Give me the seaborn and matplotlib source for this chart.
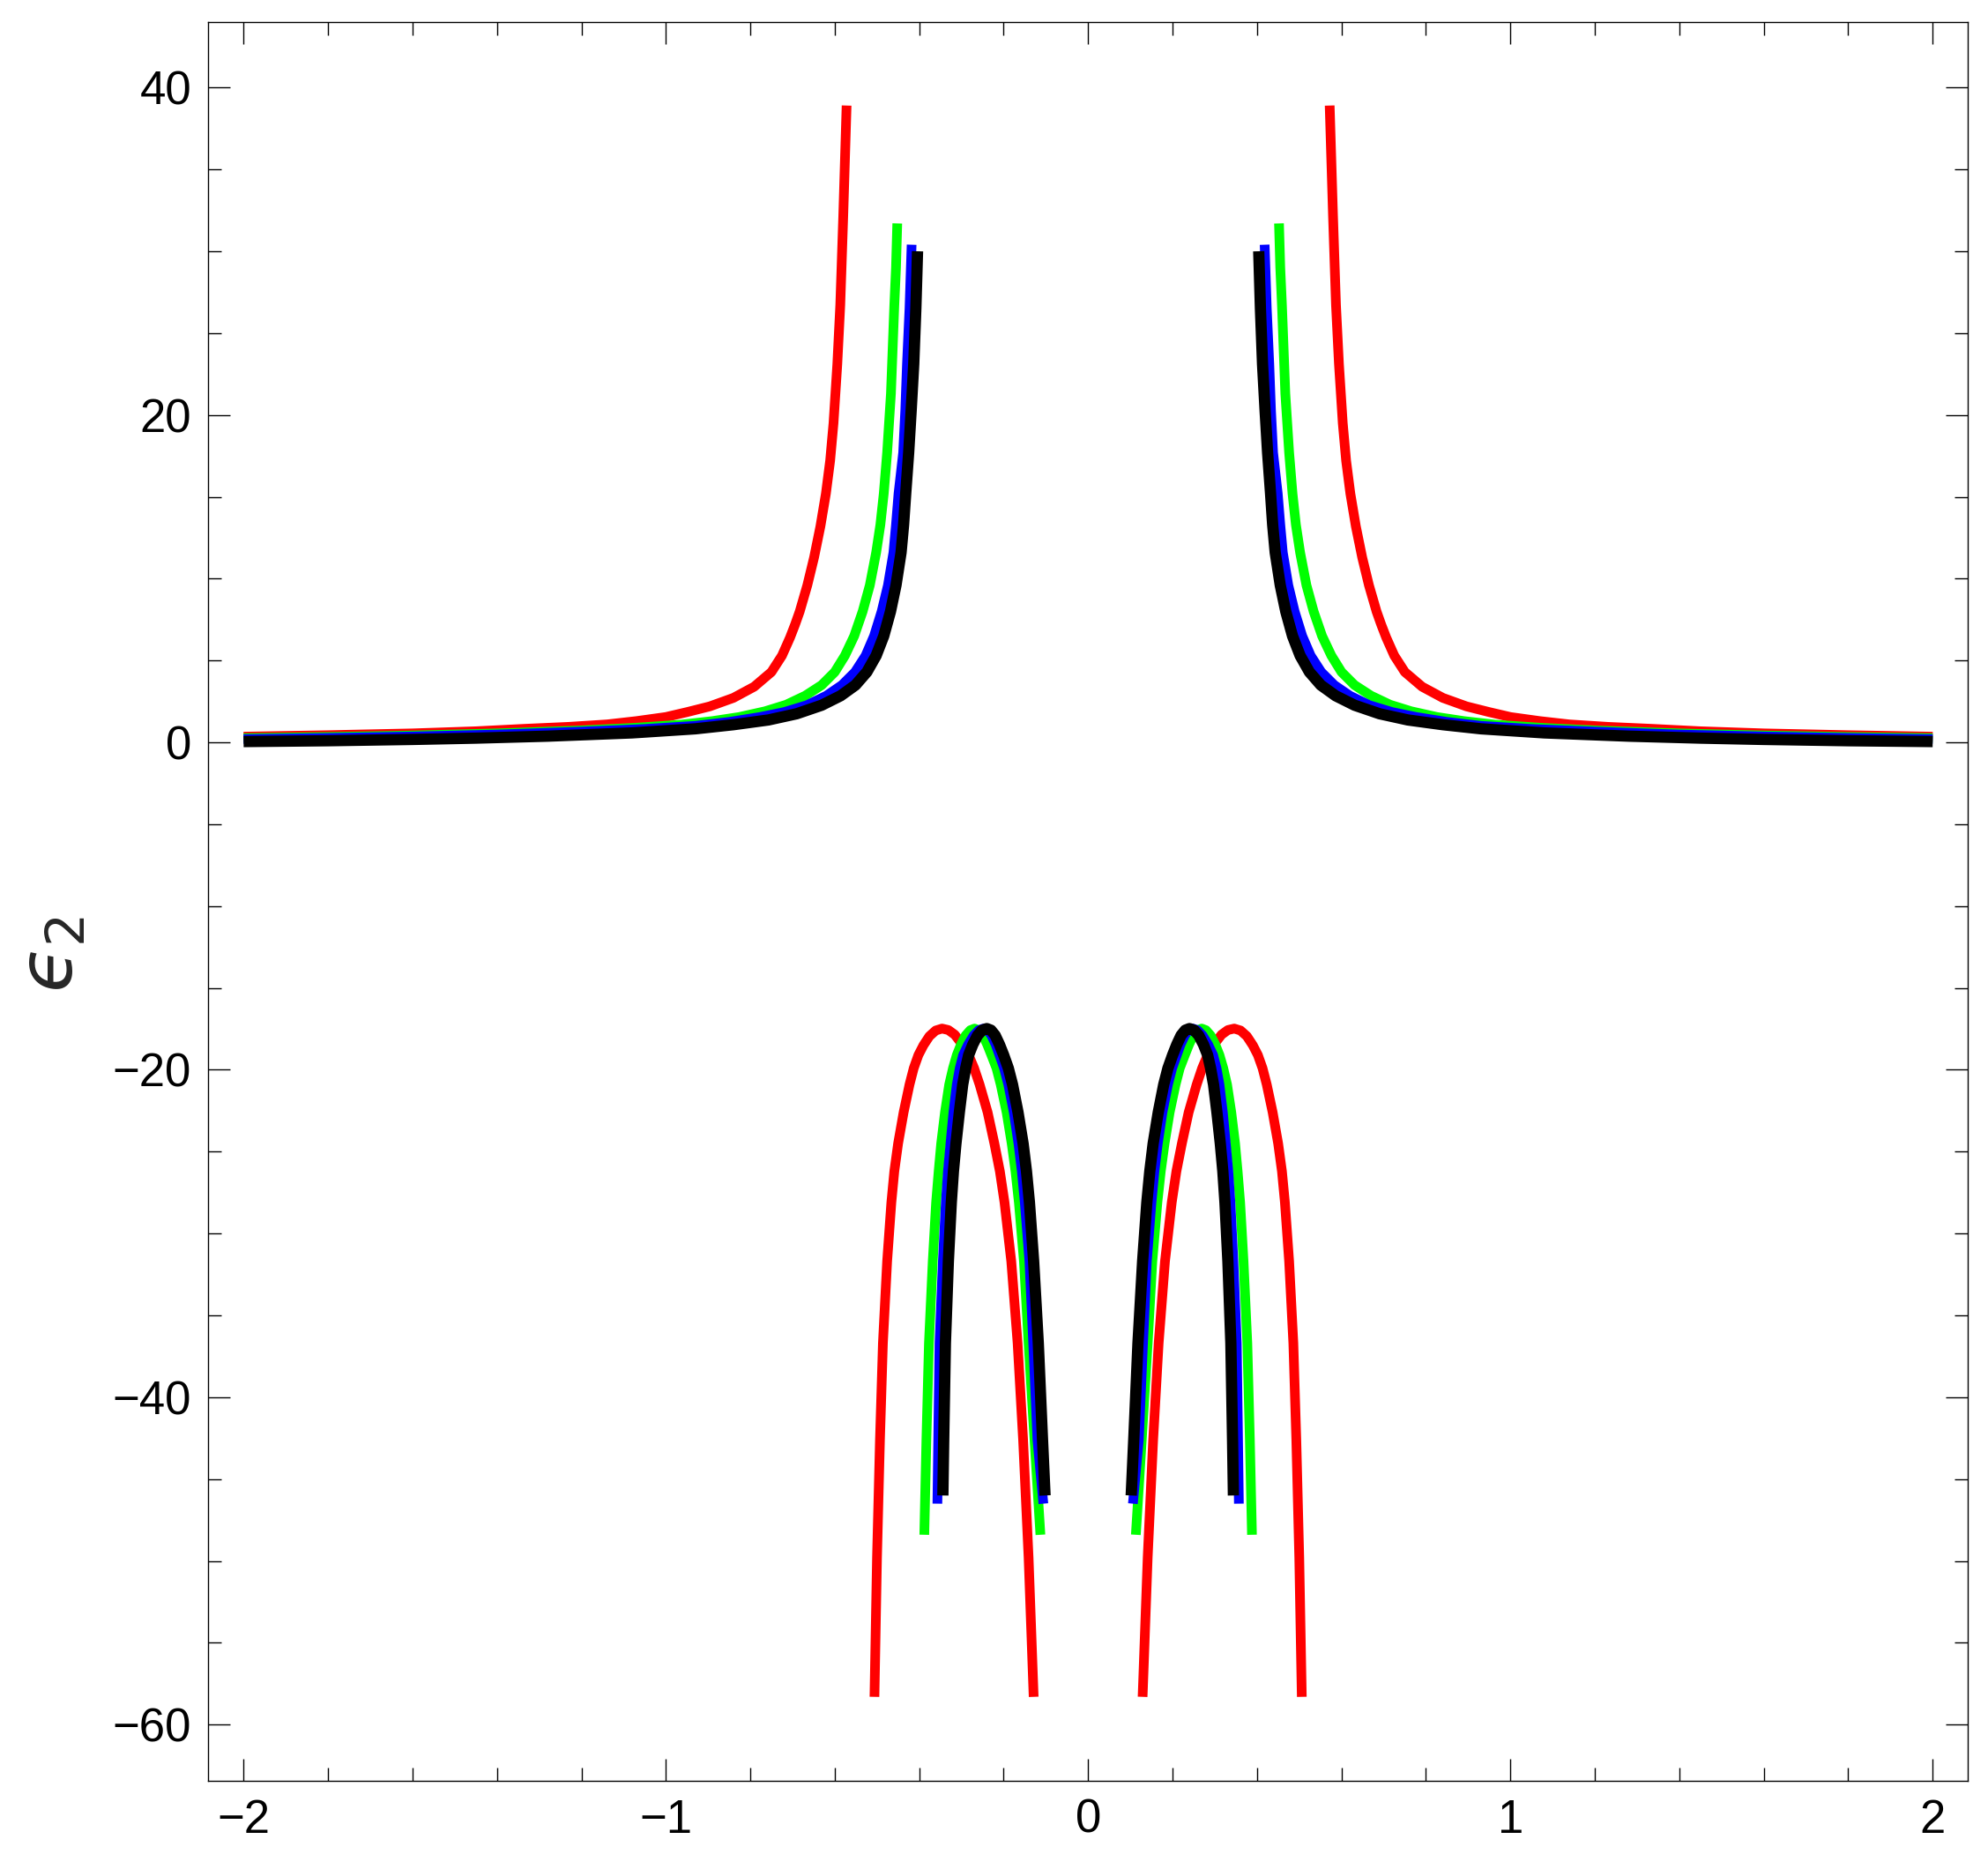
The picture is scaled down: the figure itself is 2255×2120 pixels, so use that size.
import numpy as np
import pandas as pd
import matplotlib
matplotlib.use("Agg")
import matplotlib.pyplot as plt
from matplotlib.ticker import MultipleLocator
import seaborn as sns

# values; the plot is mirror symmetric in x,
# so only the right-hand half of every branch is listed
red_up_x = [0.572, 0.576, 0.580, 0.584, 0.587, 0.594, 0.603, 0.611, 0.621, 0.634, 0.649, 0.665,
            0.683, 0.694, 0.706, 0.725, 0.750, 0.791, 0.840, 0.896, 0.950, 1.000, 1.070, 1.139,
            1.230, 1.334, 1.450, 1.600, 1.800, 2.000]
red_up_y = [38.9, 35.5, 32.1, 29.0, 26.7, 23.1, 19.5, 17.2, 15.2, 13.2, 11.3, 9.6,
            8.0, 7.2, 6.4, 5.3, 4.3, 3.4, 2.72, 2.2, 1.85, 1.55, 1.30, 1.10,
            0.95, 0.83, 0.68, 0.55, 0.44, 0.35]
green_up_x = [0.452, 0.455, 0.459, 0.463, 0.467, 0.476, 0.484, 0.492, 0.502, 0.517, 0.534, 0.554,
              0.576, 0.600, 0.631, 0.670, 0.715, 0.765, 0.826, 0.890, 0.965, 1.080, 1.210, 1.400,
              1.600, 1.800, 2.000]
green_up_y = [31.7, 29.0, 26.7, 24.0, 21.3, 17.7, 15.2, 13.3, 11.6, 9.6, 8.0, 6.5,
              5.3, 4.3, 3.5, 2.85, 2.3, 1.9, 1.55, 1.30, 1.08, 0.88, 0.72, 0.55,
              0.42, 0.33, 0.26]
blue_up_x = [0.418, 0.423, 0.429, 0.433, 0.438, 0.449, 0.455, 0.461, 0.474, 0.489, 0.507, 0.527,
             0.552, 0.583, 0.620, 0.666, 0.720, 0.777, 0.850, 0.930, 1.050, 1.210, 1.400, 1.600,
             1.800, 2.000]
blue_up_y = [30.4, 26.5, 23.1, 20.3, 17.7, 15.2, 13.3, 11.6, 9.6, 8.0, 6.5, 5.3,
             4.3, 3.5, 2.85, 2.27, 1.85, 1.55, 1.25, 1.01, 0.82, 0.65, 0.48, 0.36,
             0.27, 0.20]
black_up_x = [0.404, 0.408, 0.413, 0.419, 0.425, 0.432, 0.437, 0.443, 0.455, 0.468, 0.484, 0.502,
              0.524, 0.551, 0.586, 0.631, 0.690, 0.757, 0.840, 0.930, 1.080, 1.280, 1.450, 1.600,
              1.800, 2.000]
black_up_y = [30.0, 26.5, 23.1, 20.3, 17.7, 15.2, 13.3, 11.6, 9.6, 8.0, 6.5, 5.3,
              4.3, 3.5, 2.85, 2.27, 1.75, 1.37, 1.08, 0.83, 0.58, 0.38, 0.26, 0.18,
              0.10, 0.05]

red_arc_x = [0.129, 0.141, 0.154, 0.167, 0.182, 0.198, 0.209, 0.222, 0.238, 0.257, 0.270,
             0.283, 0.298, 0.316, 0.331, 0.346, 0.361, 0.376, 0.390, 0.402, 0.413, 0.423,
             0.437, 0.450, 0.459, 0.466, 0.476, 0.486, 0.493, 0.500, 0.506]
red_arc_y = [-58.3, -49.8, -42.6, -36.7, -31.7, -28.1, -26.2, -24.5, -22.6, -20.9, -19.9,
             -19.1, -18.45, -17.85, -17.57, -17.48, -17.6, -17.95, -18.5, -19.1, -19.9, -20.9,
             -22.6, -24.5, -26.2, -28.1, -31.7, -36.7, -42.6, -49.8, -58.3]
green_arc_x = [0.113, 0.127, 0.141, 0.152, 0.164, 0.172, 0.181, 0.193, 0.207, 0.217, 0.229,
               0.239, 0.249, 0.259, 0.269, 0.279, 0.290, 0.301, 0.311, 0.320, 0.329, 0.339,
               0.348, 0.354, 0.360, 0.368, 0.377, 0.383, 0.388]
green_arc_y = [-48.4, -42.6, -36.7, -31.7, -28.1, -26.2, -24.5, -22.6, -20.9, -19.9, -19.1,
               -18.45, -17.9, -17.58, -17.48, -17.58, -17.9, -18.45, -19.1, -19.9, -20.9, -22.6,
               -24.5, -26.2, -28.1, -31.7, -36.7, -42.6, -48.4]
blue_arc_x = [0.106, 0.120, 0.130, 0.139, 0.150, 0.157, 0.165, 0.176, 0.189, 0.199, 0.210,
              0.219, 0.229, 0.238, 0.248, 0.259, 0.271, 0.284, 0.296, 0.304, 0.311, 0.319,
              0.326, 0.332, 0.337, 0.344, 0.352, 0.355, 0.357]
blue_arc_y = [-46.5, -42.6, -36.7, -31.7, -28.1, -26.2, -24.5, -22.6, -20.9, -19.9, -19.1,
              -18.45, -17.9, -17.58, -17.48, -17.58, -17.9, -18.45, -19.1, -19.9, -20.9, -22.6,
              -24.5, -26.2, -28.1, -31.7, -36.7, -42.6, -46.5]
black_arc_x = [0.102, 0.108, 0.118, 0.129, 0.139, 0.146, 0.154, 0.166, 0.179, 0.189, 0.200,
               0.210, 0.220, 0.230, 0.240, 0.251, 0.262, 0.273, 0.283, 0.290, 0.297, 0.305,
               0.313, 0.319, 0.324, 0.331, 0.338, 0.342, 0.344]
black_arc_y = [-46.0, -42.6, -36.7, -31.7, -28.1, -26.2, -24.5, -22.6, -20.9, -19.9, -19.1,
               -18.45, -17.9, -17.58, -17.48, -17.58, -17.9, -18.45, -19.1, -19.9, -20.9, -22.6,
               -24.5, -26.2, -28.1, -31.7, -36.7, -42.6, -46.0]

x_ticks = [-2, -1, 0, 1, 2]
y_ticks = [-60, -40, -20, 0, 20, 40]

sns.set_theme(style="white")
plt.rcParams["font.family"] = ["Liberation Sans", "DejaVu Sans"]
plt.rcParams["axes.unicode_minus"] = True

curves = [
    ("#ff0000", 7.9, red_up_x, red_up_y, red_arc_x, red_arc_y),
    ("#00ff00", 7.9, green_up_x, green_up_y, green_arc_x, green_arc_y),
    ("#0000ff", 7.9, blue_up_x, blue_up_y, blue_arc_x, blue_arc_y),
    ("#000000", 9.2, black_up_x, black_up_y, black_arc_x, black_arc_y),
]

fig = plt.figure(figsize=(22.55, 21.2), dpi=100)
ax = fig.add_axes([0.1048, 0.0470, 0.8851, 0.9412])

for color, lw, ux, uy, arc_x, arc_y in curves:
    for xs, ys in [(ux, uy), (arc_x, arc_y)]:
        for sign in (1, -1):
            df = pd.DataFrame({"x": sign * np.array(xs), "y": ys})
            sns.lineplot(data=df, x="x", y="y", sort=False, estimator=None,
                         color=color, linewidth=lw, solid_capstyle="butt",
                         solid_joinstyle="round", ax=ax)

ax.set_xlim(-2.0835, 2.0835)
ax.set_ylim(-63.45, 44.0)
ax.set_xticks(x_ticks)
ax.set_yticks(y_ticks)
ax.xaxis.set_minor_locator(MultipleLocator(0.2))
ax.yaxis.set_minor_locator(MultipleLocator(5))
ax.tick_params(which="both", direction="in", bottom=True, left=True, top=True, right=True,
               colors="black", width=1.0)
ax.tick_params(which="major", length=18, labelsize=38, pad=14)
ax.tick_params(which="minor", length=11)
for s in ax.spines.values():
    s.set_color("black")
    s.set_linewidth(1.0)

ax.set_xlabel("")
ax.set_ylabel("$\u03f5_2$", fontsize=62, rotation=90)
ax.yaxis.set_label_coords(-0.068, 0.47)

fig.savefig("out.png", dpi=100, facecolor="white")
